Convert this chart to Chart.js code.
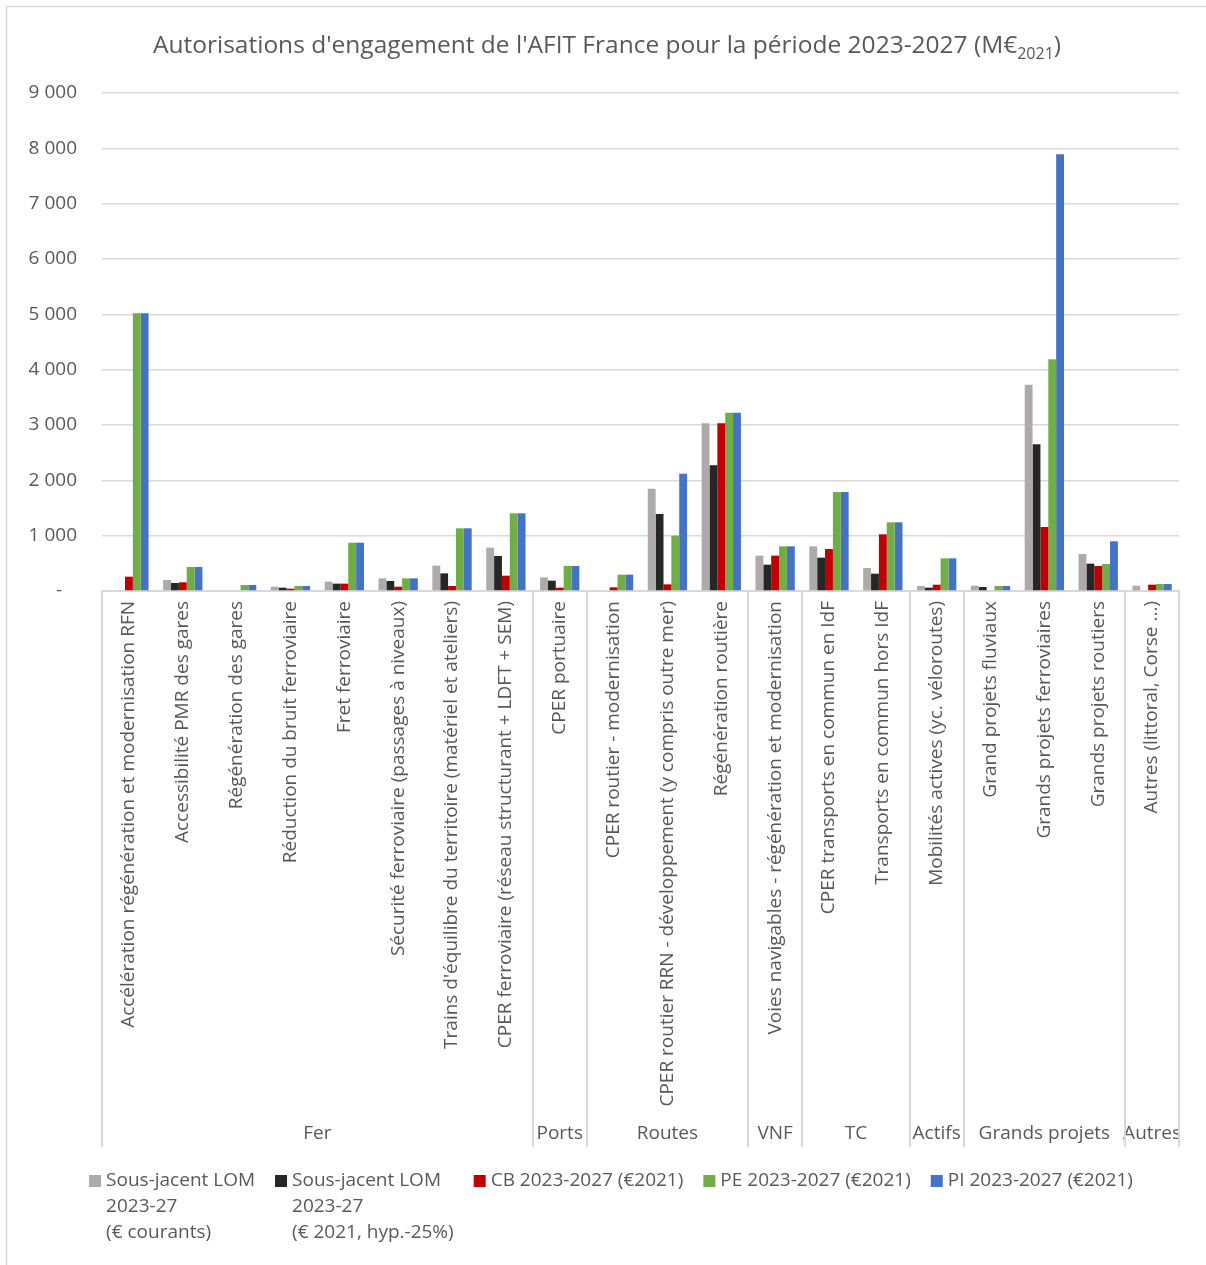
<!DOCTYPE html>
<html>
<head>
<meta charset="utf-8">
<title>AFIT France 2023-2027</title>
<script src="https://cdn.jsdelivr.net/npm/chart.js@4.4.0/dist/chart.umd.min.js"></script>
<style>
  html, body { margin: 0; padding: 0; background: #fff; }
  #wrap { width: 1206px; height: 1265px; }
</style>
</head>
<body>
<div id="wrap"><canvas id="chart" width="1206" height="1265"></canvas></div>
<script>
// categories (bottom level) and their groups (second level)
var categories = [
  'Accélération régénération et modernisation RFN',
  'Accessibilité PMR des gares',
  'Régénération des gares',
  'Réduction du bruit ferroviaire',
  'Fret ferroviaire',
  'Sécurité ferroviaire (passages à niveaux)',
  "Trains d'équilibre du territoire (matériel et ateliers)",
  'CPER ferroviaire (réseau structurant + LDFT + SEM)',
  'CPER portuaire',
  'CPER routier - modernisation',
  'CPER routier RRN - développement (y compris outre mer)',
  'Régénération routière',
  'Voies navigables - régénération et modernisation',
  'CPER transports en commun en IdF',
  'Transports en commun hors IdF',
  'Mobilités actives (yc. véloroutes)',
  'Grand projets fluviaux',
  'Grands projets ferroviaires',
  'Grands projets routiers',
  'Autres (littoral, Corse ...)'
];
var groupNames = ['Fer', 'Ports', 'Routes', 'VNF', 'TC', 'Actifs', 'Grands projets', 'Autres'];
var groupSizes = [8, 1, 3, 1, 2, 1, 3, 1];

// series values, M€
var sousJacentCourants = [0, 199, 0, 78, 169, 229, 458, 783, 247, 0, 1849, 3030, 639, 807, 416, 90, 96, 3729, 669, 96];
var sousJacent2021     = [0, 145, 0, 60, 133, 181, 319, 633, 187, 0, 1392, 2271, 476, 602, 313, 60, 72, 2651, 494, 0];
var cb2023             = [259, 157, 0, 42, 133, 78, 90, 277, 60, 66, 120, 3030, 639, 759, 1024, 114, 0, 1157, 452, 114];
var pe2023             = [5020, 434, 108, 90, 873, 229, 1133, 1404, 452, 295, 1000, 3223, 807, 1789, 1241, 590, 90, 4187, 488, 126];
var pi2023             = [5020, 434, 108, 90, 873, 229, 1133, 1404, 452, 295, 2120, 3223, 807, 1789, 1241, 590, 90, 7895, 898, 126];

var seriesNames = [
  ['Sous-jacent LOM', '2023-27', '(€ courants)'],
  ['Sous-jacent LOM', '2023-27', '(€ 2021, hyp.-25%)'],
  ['CB 2023-2027 (€2021)'],
  ['PE 2023-2027 (€2021)'],
  ['PI 2023-2027 (€2021)']
];
var seriesColors = ['#AEAAAA', '#262626', '#C00000', '#70AD47', '#4472C4'];

var yMax = 9000, yStep = 1000;

var textColor = '#595959';
var lineColor = '#D9D9D9';
var fontFamily = '"Open Sans", sans-serif';
var fontSize = 19;

function formatThousands(v) {
  if (v === 0) return '-   ';
  return String(v).replace(/\B(?=(\d{3})+(?!\d))/g, ' ');
}

// frame round the whole chart
var framePlugin = {
  id: 'frame',
  beforeDraw: function (chart) {
    var ctx = chart.ctx;
    ctx.save();
    ctx.fillStyle = '#fff';
    ctx.fillRect(0, 0, chart.width, chart.height);
    ctx.strokeStyle = lineColor;
    ctx.lineWidth = 1.5;
    ctx.strokeRect(6.5, 6.5, chart.width + 20, chart.height + 20);
    ctx.restore();
  }
};

// title with a subscript
var titlePlugin = {
  id: 'titre',
  afterDraw: function (chart) {
    var ctx = chart.ctx;
    var main = "Autorisations d'engagement de l'AFIT France pour la période 2023-2027 (M€";
    var sub = '2021';
    var close = ')';
    var big = '24.5px ' + fontFamily, small = '16px ' + fontFamily;
    ctx.save();
    ctx.fillStyle = textColor;
    ctx.textBaseline = 'alphabetic';
    ctx.font = big;
    var w1 = ctx.measureText(main).width;
    var w3 = ctx.measureText(close).width;
    ctx.font = small;
    var w2 = ctx.measureText(sub).width;
    var x = 607 - (w1 + w2 + w3) / 2;
    var y = 53;
    ctx.font = big;
    ctx.fillText(main, x, y);
    ctx.font = small;
    ctx.fillText(sub, x + w1, y + 6);
    ctx.font = big;
    ctx.fillText(close, x + w1 + w2, y);
    ctx.restore();
  }
};

// second level of the category axis: separators and group names
var groupPlugin = {
  id: 'groupes',
  afterDraw: function (chart) {
    var ctx = chart.ctx;
    var xs = chart.scales.x;
    var top = chart.chartArea.bottom;
    var bottom = xs.bottom;
    var step = xs.width / categories.length;
    ctx.save();
    ctx.strokeStyle = lineColor;
    ctx.lineWidth = 2;
    ctx.fillStyle = textColor;
    ctx.font = fontSize + 'px ' + fontFamily;
    ctx.textAlign = 'center';
    ctx.textBaseline = 'middle';
    var idx = 0;
    var edges = [xs.left];
    for (var g = 0; g < groupNames.length; g++) {
      var start = xs.left + idx * step;
      idx += groupSizes[g];
      var end = xs.left + idx * step;
      edges.push(end);
      ctx.fillText(groupNames[g], (start + end) / 2, bottom - 13);
    }
    for (var e = 0; e < edges.length; e++) {
      var ex = Math.round(edges[e]);
      ctx.beginPath();
      ctx.moveTo(ex, top);
      ctx.lineTo(ex, bottom);
      ctx.stroke();
    }
    ctx.restore();
  }
};

// legend with wrapped labels
var legendPlugin = {
  id: 'legende',
  afterDraw: function (chart) {
    var ctx = chart.ctx;
    var box = 12, gap = 5, spacing = 20, lineH = 26;
    var y0 = 1181;
    ctx.save();
    ctx.font = fontSize + 'px ' + fontFamily;
    ctx.textBaseline = 'middle';
    ctx.textAlign = 'left';
    var widths = [];
    var total = 0;
    for (var i = 0; i < seriesNames.length; i++) {
      var w = 0;
      for (var j = 0; j < seriesNames[i].length; j++) {
        w = Math.max(w, ctx.measureText(seriesNames[i][j]).width);
      }
      widths.push(box + gap + w);
      total += box + gap + w;
    }
    total += spacing * (seriesNames.length - 1);
    var x = 611 - total / 2;
    for (var k = 0; k < seriesNames.length; k++) {
      ctx.fillStyle = seriesColors[k];
      ctx.fillRect(x, y0 - box / 2, box, box);
      ctx.fillStyle = textColor;
      for (var l = 0; l < seriesNames[k].length; l++) {
        ctx.fillText(seriesNames[k][l], x + box + gap, y0 + l * lineH);
      }
      x += widths[k] + spacing;
    }
    ctx.restore();
  }
};

function drawChart() {
  Chart.defaults.font.family = fontFamily;
  Chart.defaults.font.size = fontSize;
  Chart.defaults.color = textColor;

  var allSeries = [sousJacentCourants, sousJacent2021, cb2023, pe2023, pi2023];
  var datasets = [];
  for (var i = 0; i < allSeries.length; i++) {
    datasets.push({
      label: seriesNames[i].join(' '),
      data: allSeries[i],
      backgroundColor: seriesColors[i],
      borderWidth: 0,
      categoryPercentage: 0.73,
      barPercentage: 1.0
    });
  }

  var ctx = document.getElementById('chart');
  new Chart(ctx, {
    type: 'bar',
    data: { labels: categories, datasets: datasets },
    options: {
      responsive: false,
      devicePixelRatio: 1,
      animation: false,
      layout: { padding: { top: 93, right: 27, bottom: 118, left: 0 } },
      plugins: {
        legend: { display: false },
        title: { display: false },
        tooltip: { enabled: false }
      },
      scales: {
        x: {
          grid: { display: false, drawTicks: false },
          border: { display: true, color: lineColor, width: 2 },
          ticks: {
            autoSkip: false,
            minRotation: 90,
            maxRotation: 90,
            padding: 10,
            color: textColor,
            font: { size: fontSize }
          },
          afterFit: function (scale) { scale.height = 556; }
        },
        y: {
          min: 0,
          max: yMax,
          grid: { color: lineColor, lineWidth: 1.5, drawTicks: false },
          border: { display: false },
          ticks: {
            stepSize: yStep,
            padding: 25,
            color: textColor,
            font: { size: fontSize },
            callback: function (v) { return formatThousands(v); }
          },
          afterFit: function (scale) { scale.width = 102; }
        }
      }
    },
    plugins: [framePlugin, titlePlugin, groupPlugin, legendPlugin]
  });
}

window.onload = function () {
  if (document.fonts && document.fonts.load) {
    document.fonts.load(fontSize + 'px "Open Sans"').then(drawChart, drawChart);
  } else {
    drawChart();
  }
};
</script>
</body>
</html>
